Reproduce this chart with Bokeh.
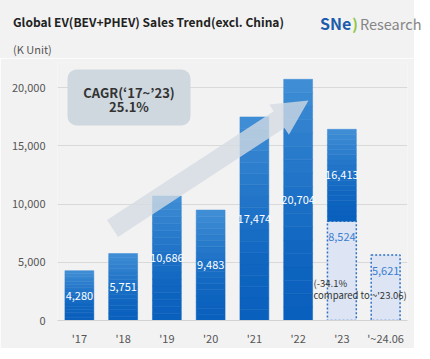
from bokeh.plotting import figure
from bokeh.layouts import column
from bokeh.models import Label, FactorRange, Range1d, FixedTicker, NumeralTickFormatter, Div
from bokeh.core.properties import value
from bokeh.embed import file_html
from bokeh.resources import INLINE

# ---------------- data ----------------
cats = ["'17", "'18", "'19", "'20", "'21", "'22", "'23", "'~24.06"]
full_year = [4280, 5751, 10686, 9483, 17474, 20704, 16413]   # '17 .. '23
half_cats = ["'23", "'~24.06"]
half_year = [8524, 5621]                                    # H1 '23, H1 '24
yticks = [0, 5000, 10000, 15000, 20000]

title_text = "Global EV(BEV+PHEV) Sales Trend(excl. China)"
unit_text = "(K Unit)"
cagr_lines = ["CAGR(\u201817~\u201923)", "25.1%"]
note_lines = ["(-34.1%", "compared to ~'23.06)"]

FONT = "Noto Sans CJK KR"
BG = "#f2f2f2"
HEAD_H = 58

# ---------------- helpers (page pixel -> chart data) ----------------
def ux(px):
    return (px - 57) / 43.75

def vy(py):
    return (320 - py) / 0.01165

def mix(c1, c2, t):
    a = [int(c1[i:i + 2], 16) for i in (1, 3, 5)]
    b = [int(c2[i:i + 2], 16) for i in (1, 3, 5)]
    return "#%02x%02x%02x" % tuple(round(a[k] + (b[k] - a[k]) * t) for k in range(3))

# ---------------- header (title, unit, logo) as HTML ----------------
def span(txt, left, top, size, color, bold=False):
    return (f'<span style="position:absolute;left:{left}px;top:{top}px;font-size:{size}px;'
            f'line-height:1;white-space:nowrap;color:{color};'
            f'font-weight:{"bold" if bold else "normal"};">{txt}</span>')

logo_html = (
    '<span style="position:absolute;left:320px;top:15px;line-height:1;white-space:nowrap;">'
    '<span style="font-size:16px;font-weight:bold;color:#1c5cab;">SNe</span>'
    '<span style="font-size:15px;font-weight:bold;color:#8cc63f;margin-left:1px;">)</span>'
    '<span style="font-size:14.5px;color:#858585;margin-left:2px;">Research</span>'
    '</span>'
)

head_html = (
    f'<div style="position:relative;width:414px;height:{HEAD_H}px;background:{BG};'
    f'font-family:\'{FONT}\';">'
    + span(title_text, 13, 16, 12, "#222222", True)
    + span(unit_text, 13, 44, 11, "#555555")
    + logo_html
    + '</div>'
)
head = Div(text=head_html, width=414, height=HEAD_H, margin=0)

# ---------------- chart ----------------
p = figure(frame_width=350, frame_height=258,
           x_range=FactorRange(factors=cats, range_padding=0),
           y_range=Range1d(0, vy(62)),
           output_backend="svg", toolbar_location=None,
           min_border_left=57, min_border_right=7, min_border_top=62 - HEAD_H, min_border_bottom=23,
           background_fill_color=BG, border_fill_color=BG, outline_line_color=None)

p.xgrid.grid_line_color = None
p.ygrid.grid_line_color = "#d9d9d9"
p.yaxis.ticker = FixedTicker(ticks=yticks)
p.yaxis.formatter = NumeralTickFormatter(format="0,0")
for ax in (p.xaxis, p.yaxis):
    ax.major_tick_line_color = None
    ax.minor_tick_line_color = None
    ax.major_tick_out = 0
    ax.major_tick_in = 0
    ax.minor_tick_out = 0
    ax.minor_tick_in = 0
    ax.major_label_text_font = FONT
    ax.major_label_text_font_size = "11px"
    ax.major_label_text_color = "#555555"
p.yaxis.axis_line_color = None
p.yaxis.major_label_standoff = 12
p.xaxis.axis_line_color = "#d3d3d3"
p.xaxis.major_label_standoff = 9

# dashed half-year bars
p.vbar(x=half_cats, top=half_year, bottom=0, width=0.66,
       fill_color="#dde5f5", line_color="#2f72c4", line_width=1.5, line_dash="2 2")

# dark full-year bars with vertical gradient
N = 18
bottom_col, top_col = "#0a61bd", "#3f8dd5"
for i, top in enumerate(full_year):
    base = half_year[0] if cats[i] == "'23" else 0
    xs, bs, ts, cs = [], [], [], []
    for k in range(N):
        xs.append(cats[i])
        bs.append(base + (top - base) * k / N)
        ts.append(base + (top - base) * (k + 1) / N)
        cs.append(mix(bottom_col, top_col, (k / (N - 1)) ** 1.6))
    p.vbar(x=xs, bottom=bs, top=ts, width=0.66, fill_color=cs, line_color=cs, line_width=0.5)

# value labels
lab_x, lab_y, lab_t = [], [], []
for i, top in enumerate(full_year):
    base = half_year[0] if cats[i] == "'23" else 0
    lab_x.append(cats[i]); lab_y.append((base + top) / 2); lab_t.append(f"{top:,}")
p.text(x=lab_x, y=lab_y, text=lab_t, text_font=value(FONT), text_font_size="11px",
       text_color="white", text_align="center", text_baseline="middle")
p.text(x=half_cats, y=[v - 1350 for v in half_year], text=[f"{v:,}" for v in half_year],
       text_font=value(FONT), text_font_size="11px", text_color="#3b7dd0",
       text_align="center", text_baseline="middle")

# trend arrow
arrow_px = [(106.5, 219.6), (273.2, 110.7), (268.8, 104.0), (308.0, 100.0),
            (288.4, 134.2), (284.0, 127.5), (117.5, 236.4)]
p.patch([ux(a) for a, b in arrow_px], [vy(b) for a, b in arrow_px],
        fill_color="#d3dbe3", fill_alpha=0.78, line_color=None)

# CAGR box
p.quad(left=[ux(67)], right=[ux(190)], top=[vy(69)], bottom=[vy(125)],
       fill_color="#cfd8df", line_color=None, border_radius=9)
for txt, yy in zip(cagr_lines, (92, 106)):
    p.add_layout(Label(x=ux(128.5), y=vy(yy), text=txt, text_font=FONT, text_font_size="13px",
                       text_font_style="bold", text_color="#333333",
                       text_align="center", text_baseline="middle"))

# note
for txt, yy in zip(note_lines, (282, 294)):
    p.add_layout(Label(x=ux(313), y=vy(yy), text=txt, text_font=FONT, text_font_size="9.5px",
                       text_color="#333333", text_align="left", text_baseline="middle"))

layout = column(head, p, spacing=0)
open("out.html", "w").write(file_html(layout, INLINE))
